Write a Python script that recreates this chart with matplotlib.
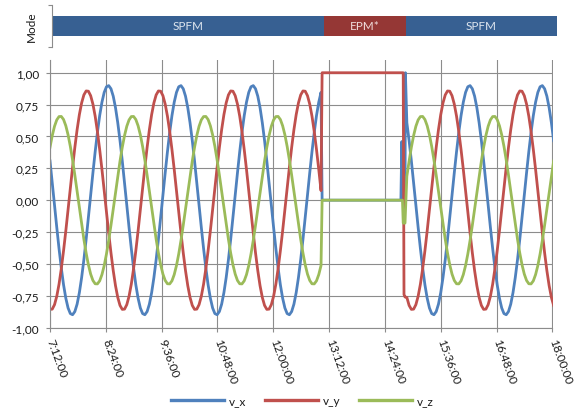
import numpy as np
import matplotlib
matplotlib.use('Agg')
import matplotlib.pyplot as plt
from matplotlib.lines import Line2D

plt.rcParams['font.family'] = ['Lato', 'DejaVu Sans']

# sample grid (minutes after midnight)
step = 2.9125
t_pre = 432 + step * np.arange(121)
t_epm = [782.9, 884.5, 885.7, 886.5, 887.5, 888.5, 889.8, 890.3]
t_post = 432 + step * np.arange(158, 224)

v_x_pre = [0.308, 0.137, -0.039, -0.214, -0.380, -0.532, -0.664, -0.769,
           -0.846, -0.890, -0.899, -0.874, -0.816, -0.726, -0.608, -0.467,
           -0.308, -0.137, 0.039, 0.214, 0.380, 0.532, 0.664, 0.769,
           0.846, 0.890, 0.899, 0.874, 0.816, 0.726, 0.608, 0.467,
           0.308, 0.137, -0.039, -0.214, -0.380, -0.532, -0.664, -0.769,
           -0.846, -0.890, -0.899, -0.874, -0.816, -0.726, -0.608, -0.467,
           -0.308, -0.137, 0.039, 0.214, 0.380, 0.532, 0.664, 0.769,
           0.846, 0.890, 0.899, 0.874, 0.816, 0.726, 0.608, 0.467,
           0.308, 0.137, -0.039, -0.214, -0.380, -0.532, -0.664, -0.769,
           -0.846, -0.890, -0.899, -0.874, -0.816, -0.726, -0.608, -0.467,
           -0.308, -0.137, 0.039, 0.214, 0.380, 0.532, 0.664, 0.769,
           0.846, 0.890, 0.899, 0.874, 0.816, 0.726, 0.608, 0.467,
           0.308, 0.137, -0.039, -0.214, -0.380, -0.532, -0.664, -0.769,
           -0.846, -0.890, -0.899, -0.874, -0.816, -0.726, -0.608, -0.467,
           -0.308, -0.137, 0.039, 0.214, 0.380, 0.532, 0.664, 0.769,
           0.846]
v_x_epm = [0.0, 0.0, 0.46, 0.0, 0.0, 0.0, 0.0, 1.0]
v_x_post = [0.608, 0.467,
            0.308, 0.137, -0.039, -0.214, -0.380, -0.532, -0.664, -0.769,
            -0.846, -0.890, -0.899, -0.874, -0.816, -0.726, -0.608, -0.467,
            -0.308, -0.137, 0.039, 0.214, 0.380, 0.532, 0.664, 0.769,
            0.846, 0.890, 0.899, 0.874, 0.816, 0.726, 0.608, 0.467,
            0.308, 0.137, -0.039, -0.214, -0.380, -0.532, -0.664, -0.769,
            -0.846, -0.890, -0.899, -0.874, -0.816, -0.726, -0.608, -0.467,
            -0.308, -0.137, 0.039, 0.214, 0.380, 0.532, 0.664, 0.769,
            0.846, 0.890, 0.899, 0.874, 0.816, 0.726, 0.608, 0.467]

v_y_pre = [-0.857, -0.855, -0.820, -0.754, -0.659, -0.538, -0.397, -0.241,
           -0.075, 0.094, 0.259, 0.414, 0.553, 0.671, 0.763, 0.826,
           0.857, 0.855, 0.820, 0.754, 0.659, 0.538, 0.397, 0.241,
           0.075, -0.094, -0.259, -0.414, -0.553, -0.671, -0.763, -0.826,
           -0.857, -0.855, -0.820, -0.754, -0.659, -0.538, -0.397, -0.241,
           -0.075, 0.094, 0.259, 0.414, 0.553, 0.671, 0.763, 0.826,
           0.857, 0.855, 0.820, 0.754, 0.659, 0.538, 0.397, 0.241,
           0.075, -0.094, -0.259, -0.414, -0.553, -0.671, -0.763, -0.826,
           -0.857, -0.855, -0.820, -0.754, -0.659, -0.538, -0.397, -0.241,
           -0.075, 0.094, 0.259, 0.414, 0.553, 0.671, 0.763, 0.826,
           0.857, 0.855, 0.820, 0.754, 0.659, 0.538, 0.397, 0.241,
           0.075, -0.094, -0.259, -0.414, -0.553, -0.671, -0.763, -0.826,
           -0.857, -0.855, -0.820, -0.754, -0.659, -0.538, -0.397, -0.241,
           -0.075, 0.094, 0.259, 0.414, 0.553, 0.671, 0.763, 0.826,
           0.857, 0.855, 0.820, 0.754, 0.659, 0.538, 0.397, 0.241,
           0.075]
v_y_epm = [1.0, 1.0, 1.0, 1.0, 1.0, -0.74, -0.76, -0.76]
v_y_post = [-0.763, -0.826,
            -0.857, -0.855, -0.820, -0.754, -0.659, -0.538, -0.397, -0.241,
            -0.075, 0.094, 0.259, 0.414, 0.553, 0.671, 0.763, 0.826,
            0.857, 0.855, 0.820, 0.754, 0.659, 0.538, 0.397, 0.241,
            0.075, -0.094, -0.259, -0.414, -0.553, -0.671, -0.763, -0.826,
            -0.857, -0.855, -0.820, -0.754, -0.659, -0.538, -0.397, -0.241,
            -0.075, 0.094, 0.259, 0.414, 0.553, 0.671, 0.763, 0.826,
            0.857, 0.855, 0.820, 0.754, 0.659, 0.538, 0.397, 0.241,
            0.075, -0.094, -0.259, -0.414, -0.553, -0.671, -0.763, -0.826]

v_z_pre = [0.415, 0.507, 0.580, 0.630, 0.656, 0.657, 0.633, 0.584,
           0.513, 0.422, 0.315, 0.196, 0.069, -0.060, -0.187, -0.307,
           -0.415, -0.507, -0.580, -0.630, -0.656, -0.657, -0.633, -0.584,
           -0.513, -0.422, -0.315, -0.196, -0.069, 0.060, 0.187, 0.307,
           0.415, 0.507, 0.580, 0.630, 0.656, 0.657, 0.633, 0.584,
           0.513, 0.422, 0.315, 0.196, 0.069, -0.060, -0.187, -0.307,
           -0.415, -0.507, -0.580, -0.630, -0.656, -0.657, -0.633, -0.584,
           -0.513, -0.422, -0.315, -0.196, -0.069, 0.060, 0.187, 0.307,
           0.415, 0.507, 0.580, 0.630, 0.656, 0.657, 0.633, 0.584,
           0.513, 0.422, 0.315, 0.196, 0.069, -0.060, -0.187, -0.307,
           -0.415, -0.507, -0.580, -0.630, -0.656, -0.657, -0.633, -0.584,
           -0.513, -0.422, -0.315, -0.196, -0.069, 0.060, 0.187, 0.307,
           0.415, 0.507, 0.580, 0.630, 0.656, 0.657, 0.633, 0.584,
           0.513, 0.422, 0.315, 0.196, 0.069, -0.060, -0.187, -0.307,
           -0.415, -0.507, -0.580, -0.630, -0.656, -0.657, -0.633, -0.584,
           -0.513]
v_z_epm = [0.0, 0.0, 0.0, 0.0, -0.18, -0.18, -0.18, -0.10]
v_z_post = [0.187, 0.307,
            0.415, 0.507, 0.580, 0.630, 0.656, 0.657, 0.633, 0.584,
            0.513, 0.422, 0.315, 0.196, 0.069, -0.060, -0.187, -0.307,
            -0.415, -0.507, -0.580, -0.630, -0.656, -0.657, -0.633, -0.584,
            -0.513, -0.422, -0.315, -0.196, -0.069, 0.060, 0.187, 0.307,
            0.415, 0.507, 0.580, 0.630, 0.656, 0.657, 0.633, 0.584,
            0.513, 0.422, 0.315, 0.196, 0.069, -0.060, -0.187, -0.307,
            -0.415, -0.507, -0.580, -0.630, -0.656, -0.657, -0.633, -0.584,
            -0.513, -0.422, -0.315, -0.196, -0.069, 0.060, 0.187, 0.307]

mode_names = ['SPFM', 'EPM*', 'SPFM']
mode_edges = [432, 781, 886, 1080]

time = np.concatenate([t_pre, t_epm, t_post])
series = [('v_x', v_x_pre + v_x_epm + v_x_post, '#4F81BD'),
          ('v_y', v_y_pre + v_y_epm + v_y_post, '#C0504D'),
          ('v_z', v_z_pre + v_z_epm + v_z_post, '#9BBB59')]

grey = '#8c8c8c'
txt = '#1a1a1a'

fig = plt.figure(figsize=(5.74, 4.10), dpi=100)

# main chart
ax = fig.add_axes([50 / 574, 1 - 328.6 / 410, 502.5 / 574, 267.6 / 410])
for name, vals, col in series:
    ax.plot(time, vals, color=col, lw=2.0, label=name, solid_joinstyle='round')

ax.set_xlim(432, 1080)
ax.set_ylim(-1, 1.1)
yt = np.arange(-1, 1.01, 0.25)
ax.set_yticks(yt, labels=['{:.2f}'.format(v).replace('.', ',') for v in yt])
xt = np.arange(432, 1081, 72)
ax.set_xticks(xt, labels=['{}:{:02d}:00'.format(int(m) // 60, int(m) % 60) for m in xt],
              rotation=-70, ha='left', va='center', rotation_mode='anchor')
ax.grid(True, color=grey, lw=0.8)
ax.set_axisbelow(True)
for s in ['top', 'right']:
    ax.spines[s].set_visible(False)
for s in ['left', 'bottom']:
    ax.spines[s].set_color(grey)
    ax.spines[s].set_linewidth(0.8)
ax.tick_params(axis='y', length=3, color=grey, pad=5, labelsize=8.5, labelcolor=txt)
ax.tick_params(axis='x', length=3, color=grey, pad=5, labelsize=8.5, labelcolor=txt)

# mode strip
axm = fig.add_axes([51.7 / 574, 1 - 48.3 / 410, 505 / 574, 42.8 / 410])
cols = {'SPFM': '#376092', 'EPM*': '#953735'}
tcols = {'SPFM': '#dde5ee', 'EPM*': '#f0dcdb'}
for name, a, b in zip(mode_names, mode_edges[:-1], mode_edges[1:]):
    axm.barh(0.5, b - a, left=a, height=0.467, color=cols[name], lw=0)
    axm.text((a + b) / 2, 0.5, name, ha='center', va='center',
             color=tcols[name], fontsize=8.5)
axm.set_xlim(432, 1080)
axm.set_ylim(0, 1)
axm.set_xticks([])
axm.set_yticks([0, 1], labels=['', ''])
for s in ['top', 'right', 'bottom']:
    axm.spines[s].set_visible(False)
axm.spines['left'].set_color(grey)
axm.spines['left'].set_linewidth(0.8)
axm.tick_params(axis='y', length=3, color=grey)
fig.text(31 / 574, 1 - 27 / 410, 'Mode', rotation=90, ha='center', va='center',
         fontsize=8.5, color=txt)

handles = [Line2D([], [], color=c, lw=2.4) for _, _, c in series]
fig.legend(handles, [n for n, _, _ in series], loc='center',
           bbox_to_anchor=(302 / 574, 1 - 402 / 410), ncol=3, frameon=False,
           handlelength=4.5, handletextpad=0.4, columnspacing=1.6, fontsize=8.5,
           labelcolor=txt)

fig.savefig('out.png', dpi=100)
